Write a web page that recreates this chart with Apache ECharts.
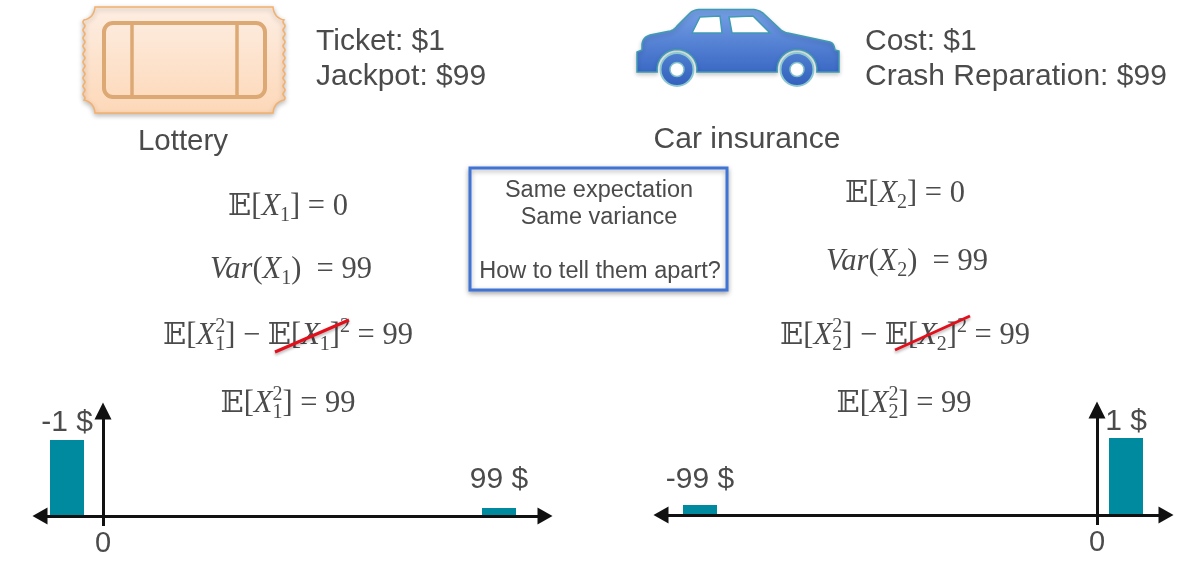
<!DOCTYPE html>
<html>
<head>
<meta charset="utf-8">
<style>
	html, body { margin: 0; padding: 0; background: #fff; }
	#main { width: 1188px; height: 583px; }
</style>
<script src="https://cdn.jsdelivr.net/npm/echarts@6/dist/echarts.min.js"></script>
</head>
<body>
<div id="main"></div>
<script>
// bar positions are the schematic slots of the slide (axes are not to scale), heights as drawn
var lotteryLabels = ['-1 $', '99 $'];
var lotteryPos = [-36, 396];
var lotteryHeights = [0.76, 0.08];

var insuranceLabels = ['-99 $', '1 $'];
var insurancePos = [-397, 29];
var insuranceHeights = [0.10, 0.77];

var zeroTick = [0];

var SANS = '"Liberation Sans", Arial, sans-serif';
var SERIF = '"Liberation Serif", "DejaVu Serif", serif';
var TEXT_COLOR = '#4b4b4b';
var BAR_COLOR = '#008a9f';
var AXIS_COLOR = '#111111';

var measureCtx = document.createElement('canvas').getContext('2d');

function label(text, x, y, size, align) {
	return {
		type: 'text',
		z: 10,
		style: {
			text: text,
			x: x,
			y: y,
			fill: TEXT_COLOR,
			font: size + 'px ' + SANS,
			align: align || 'left',
			verticalAlign: 'middle'
		}
	};
}

// lays a formula out left to right, tokens: {t, it, sub, sup}
function formula(cx, cy, tokens) {
	var size = 30.5, small = 20;
	var big = size + 'px ' + SERIF, bigIt = 'italic ' + big, smallF = small + 'px ' + SERIF;
	var total = 0;
	tokens.forEach(function(tk) {
		measureCtx.font = tk.it ? bigIt : big;
		tk.w = measureCtx.measureText(tk.t).width;
		measureCtx.font = smallF;
		tk.s = 0;
		if (tk.sub) tk.s = Math.max(tk.s, measureCtx.measureText(tk.sub).width);
		if (tk.sup) tk.s = Math.max(tk.s, measureCtx.measureText(tk.sup).width);
		total += tk.w + tk.s;
	});
	var x = cx - total / 2, out = [];
	function put(text, px, py, font) {
		out.push({
			type: 'text',
			z: 10,
			style: { text: text, x: px, y: py, fill: TEXT_COLOR, font: font, align: 'left', verticalAlign: 'middle' }
		});
	}
	tokens.forEach(function(tk) {
		put(tk.t, x, cy, tk.it ? bigIt : big);
		x += tk.w;
		if (tk.sub) put(tk.sub, x, cy + 9, smallF);
		if (tk.sup) put(tk.sup, x, cy - 9, smallF);
		x += tk.s;
	});
	return out;
}

var BB = '\uD835\uDD3C';

function meanRow(n, cx, cy) {
	return formula(cx, cy, [{ t: BB + '[' }, { t: 'X', it: true, sub: n }, { t: '] = 0' }]);
}
function varRow(n, cx, cy) {
	return formula(cx, cy, [{ t: 'Var', it: true }, { t: '(' }, { t: 'X', it: true, sub: n }, { t: ')  = 99' }]);
}
function diffRow(n, cx, cy) {
	return formula(cx, cy, [
		{ t: BB + '[' }, { t: 'X', it: true, sub: n, sup: '2' }, { t: '] \u2212 ' + BB + '[' },
		{ t: 'X', it: true, sub: n }, { t: ']', sup: '2' }, { t: ' = 99' }
	]);
}
function squareRow(n, cx, cy) {
	return formula(cx, cy, [{ t: BB + '[' }, { t: 'X', it: true, sub: n, sup: '2' }, { t: '] = 99' }]);
}

function strike(x1, y1, x2, y2) {
	return {
		type: 'line',
		z: 11,
		shape: { x1: x1, y1: y1, x2: x2, y2: y2 },
		style: { stroke: '#e3101c', lineWidth: 3, shadowBlur: 3, shadowColor: 'rgba(0,0,0,0.3)', shadowOffsetY: 2 }
	};
}

// appends a quadratic curve to pts, from the last point
function curveTo(pts, cx, cy, x, y) {
	var p = pts[pts.length - 1], n = 8;
	for (var i = 1; i <= n; i++) {
		var t = i / n, u = 1 - t;
		pts.push([u * u * p[0] + 2 * u * t * cx + t * t * x, u * u * p[1] + 2 * u * t * cy + t * t * y]);
	}
}

// arch over a wheel, angles run from the right end back to the left end
function archTo(pts, cx, cy, r, a0, a1) {
	var n = 16;
	for (var i = 0; i <= n; i++) {
		var a = (a0 + (a1 - a0) * i / n) * Math.PI / 180;
		pts.push([cx + r * Math.cos(a), cy - r * Math.sin(a)]);
	}
}

function ticketPoints() {
	var pts = [[95, 7], [273, 7]], i;
	curveTo(pts, 274, 18, 284, 20);
	for (i = 0; i < 20; i++) {
		curveTo(pts, i % 2 ? 286 : 282, 22 + i * 4, 284, 24 + i * 4);
	}
	curveTo(pts, 274, 102, 273, 113);
	pts.push([95, 113]);
	curveTo(pts, 94, 102, 84, 100);
	for (i = 0; i < 20; i++) {
		curveTo(pts, i % 2 ? 82 : 86, 98 - i * 4, 84, 96 - i * 4);
	}
	curveTo(pts, 94, 18, 95, 7);
	return pts;
}

function carPoints() {
	var pts = [[637, 72], [637, 52], [642, 50], [642, 44]];
	curveTo(pts, 643, 37, 650, 35);
	pts.push([670, 31]);
	curveTo(pts, 674, 30, 677, 26);
	pts.push([690, 13]);
	curveTo(pts, 694, 9.5, 700, 9.5);
	pts.push([752, 9.5]);
	curveTo(pts, 759, 9.5, 764, 14);
	pts.push([780, 29]);
	curveTo(pts, 783, 32, 788, 33);
	pts.push([830, 42]);
	curveTo(pts, 834, 43, 835, 50);
	pts.push([839, 51], [839, 72]);
	archTo(pts, 797, 69.5, 20, -7, 187);
	archTo(pts, 677, 69.5, 20, -7, 187);
	return pts;
}

function ticket() {
	return [{
		type: 'polygon',
		z: 5,
		shape: { points: ticketPoints() },
		style: {
			fill: new echarts.graphic.LinearGradient(0, 0, 0, 1, [
				{ offset: 0, color: '#fdeee3' }, { offset: 1, color: '#fdd8b8' }
			]),
			stroke: '#f3b06c',
			lineWidth: 1.5,
			shadowBlur: 5,
			shadowColor: 'rgba(0,0,0,0.25)',
			shadowOffsetY: 2
		}
	}, {
		type: 'rect',
		z: 6,
		shape: { x: 104, y: 23, width: 161, height: 74, r: 9 },
		style: { fill: 'none', stroke: '#dca873', lineWidth: 4 }
	}, {
		type: 'line',
		z: 6,
		shape: { x1: 132, y1: 23, x2: 132, y2: 97 },
		style: { stroke: '#dca873', lineWidth: 3.5 }
	}, {
		type: 'line',
		z: 6,
		shape: { x1: 237, y1: 23, x2: 237, y2: 97 },
		style: { stroke: '#dca873', lineWidth: 3.5 }
	}];
}

function wheel(cx, cy) {
	return [{
		type: 'circle',
		z: 6,
		shape: { cx: cx, cy: cy, r: 16.5 },
		style: {
			fill: new echarts.graphic.LinearGradient(0, 0, 0, 1, [
				{ offset: 0, color: '#4f7fd0' }, { offset: 1, color: '#3260bd' }
			]),
			stroke: '#8cc8cf',
			lineWidth: 2
		}
	}, {
		type: 'circle',
		z: 7,
		shape: { cx: cx, cy: cy, r: 7 },
		style: { fill: '#fff', stroke: '#7fc0c8', lineWidth: 1.5 }
	}];
}

function car() {
	var stroke = '#3f9bb2';
	return [{
		type: 'polygon',
		z: 5,
		shape: { points: carPoints() },
		style: {
			fill: new echarts.graphic.LinearGradient(0, 0, 0, 1, [
				{ offset: 0, color: '#76a0e6' }, { offset: 1, color: '#3a68c4' }
			]),
			stroke: stroke,
			lineWidth: 1.5,
			shadowBlur: 4,
			shadowColor: 'rgba(0,0,0,0.2)',
			shadowOffsetY: 2
		}
	}, {
		type: 'polygon',
		z: 6,
		shape: { points: [[700, 17], [720, 16], [722, 33], [692, 33]] },
		style: { fill: '#fff', stroke: stroke, lineWidth: 1.5 }
	}, {
		type: 'polygon',
		z: 6,
		shape: { points: [[729, 17], [753, 16], [770, 33], [732, 33]] },
		style: { fill: '#fff', stroke: stroke, lineWidth: 1.5 }
	}].concat(wheel(677, 69.5), wheel(797, 69.5));
}

var elements = []
	.concat(ticket(), car())
	.concat([
		label('Ticket: $1', 316, 42, 30),
		label('Jackpot: $99', 316, 77, 30),
		label('Lottery', 183, 142, 29.5, 'center'),
		label('Cost: $1', 865, 42, 30),
		label('Crash Reparation: $99', 865, 77, 30),
		label('Car insurance', 747, 140, 30, 'center'),
		{
			type: 'rect',
			z: 5,
			shape: { x: 470, y: 168, width: 257, height: 122 },
			style: {
				fill: '#fff',
				stroke: '#3f74d6',
				lineWidth: 3,
				shadowBlur: 5,
				shadowColor: 'rgba(0,0,0,0.3)',
				shadowOffsetY: 2
			}
		},
		label('Same expectation', 599, 191, 23.5, 'center'),
		label('Same variance', 599, 218, 23.5, 'center'),
		label('How to tell them apart?', 600, 272, 23.5, 'center')
	])
	.concat(meanRow('1', 288, 207), varRow('1', 291, 270), diffRow('1', 288, 336), squareRow('1', 288, 404))
	.concat(meanRow('2', 905, 194), varRow('2', 907, 262), diffRow('2', 905, 336), squareRow('2', 904, 404))
	.concat([strike(275, 352, 349, 320), strike(895, 350, 970, 316)]);

function xAxisFor(index, min, max) {
	return {
		type: 'value',
		gridIndex: index,
		min: min,
		max: max,
		z: 5,
		splitLine: { show: false },
		axisLine: {
			show: true,
			symbol: ['triangle', 'triangle'],
			symbolSize: [17, 15],
			lineStyle: { color: AXIS_COLOR, width: 3 }
		},
		axisTick: {
			show: true,
			customValues: zeroTick,
			length: 10,
			lineStyle: { color: AXIS_COLOR, width: 3 }
		},
		axisLabel: {
			show: true,
			customValues: zeroTick,
			margin: 13,
			color: TEXT_COLOR,
			fontFamily: SANS,
			fontSize: 29
		}
	};
}

function yAxisFor(index) {
	return {
		type: 'value',
		gridIndex: index,
		min: 0,
		max: 1.05,
		z: 5,
		splitLine: { show: false },
		axisTick: { show: false },
		axisLabel: { show: false },
		axisLine: {
			show: true,
			symbol: ['none', 'triangle'],
			symbolSize: [17, 17],
			lineStyle: { color: AXIS_COLOR, width: 3 }
		}
	};
}

function barSeries(index, positions, heights, names, gaps) {
	return {
		type: 'bar',
		xAxisIndex: index,
		yAxisIndex: index,
		barWidth: 34,
		z: 1,
		itemStyle: { color: BAR_COLOR },
		label: {
			show: true,
			position: 'top',
			formatter: '{b}',
			color: TEXT_COLOR,
			fontFamily: SANS,
			fontSize: 30
		},
		data: positions.map(function(pos, i) {
			return { name: names[i], value: [pos, heights[i]], label: { distance: gaps[i] } };
		})
	};
}

var myChart = echarts.init(document.getElementById('main'));
myChart.setOption({
	animation: false,
	backgroundColor: '#ffffff',
	grid: [
		{ left: 40, width: 505, top: 411, height: 105 },
		{ left: 661, width: 505, top: 410, height: 105 }
	],
	xAxis: [xAxisFor(0, -63, 442), xAxisFor(1, -436, 69)],
	yAxis: [yAxisFor(0), yAxisFor(1)],
	series: [
		barSeries(0, lotteryPos, lotteryHeights, lotteryLabels, [2, 13]),
		barSeries(1, insurancePos, insuranceHeights, insuranceLabels, [10, 1])
	],
	graphic: { elements: elements }
});
</script>
</body>
</html>
